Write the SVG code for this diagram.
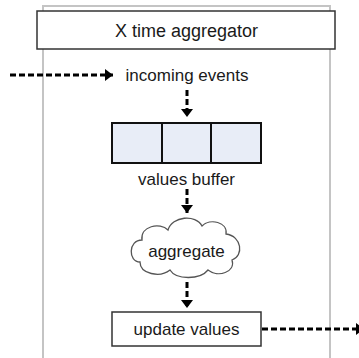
<svg xmlns="http://www.w3.org/2000/svg" width="359" height="358" viewBox="0 0 359 358">
<style>
.lbl{font-family:"Liberation Sans",Arial,sans-serif;font-size:17px;fill:#1a1a1a;text-anchor:middle}
.ttl{font-size:18px}
.conn{stroke:#000;stroke-width:3;stroke-dasharray:6 3;fill:none}
.box{fill:#fff;stroke:#333;stroke-width:1.5}
.cell{fill:#e8edf7;stroke:#111;stroke-width:2}
</style>
<defs>
<marker id="ah" markerUnits="userSpaceOnUse" markerWidth="8" markerHeight="12" refX="8" refY="6" orient="auto">
<path d="M0,0 L8,6 L0,12 Z" fill="#000"/>
</marker>
</defs>
<g id="container">
<path d="M43,358 V6 H330 V358" fill="#fff" stroke="#c4c4c4" stroke-width="2"/>
</g>
<g id="title">
<rect class="box" x="37" y="11" width="298" height="38"/>
<text class="lbl ttl" x="186.5" y="36.5">X time aggregator</text>
</g>
<g id="incoming">
<text class="lbl" x="187" y="81">incoming events</text>
</g>
<g id="buffer">
<rect class="cell" x="112" y="123" width="50" height="40"/>
<rect class="cell" x="162" y="123" width="49" height="40"/>
<rect class="cell" x="211" y="123" width="50" height="40"/>
<text class="lbl" x="186.5" y="185">values buffer</text>
</g>
<g id="aggregate">
<path d="M140,262 C128,262 128,240 142,240 C140,226 160,222 168,230 C172,216 196,214 202,226 C210,218 228,222 226,234 C242,236 244,256 232,260 C236,272 218,278 208,270 C200,280 176,280 170,270 C160,278 140,274 140,262 Z" fill="#fff" stroke="#555" stroke-width="1.3"/>
<text class="lbl" x="186.5" y="257">aggregate</text>
</g>
<g id="update">
<rect class="box" x="112" y="312" width="149" height="34"/>
<text class="lbl" x="186.5" y="335">update values</text>
</g>
<g id="connectors">
<line class="conn" x1="10" y1="75" x2="113" y2="75" marker-end="url(#ah)"/>
<line class="conn" x1="187" y1="90" x2="187" y2="117" marker-end="url(#ah)"/>
<line class="conn" x1="187" y1="189" x2="187" y2="213" marker-end="url(#ah)"/>
<line class="conn" x1="187" y1="282" x2="187" y2="308" marker-end="url(#ah)"/>
<line class="conn" x1="262" y1="329" x2="364" y2="329" marker-end="url(#ah)"/>
</g>
</svg>
